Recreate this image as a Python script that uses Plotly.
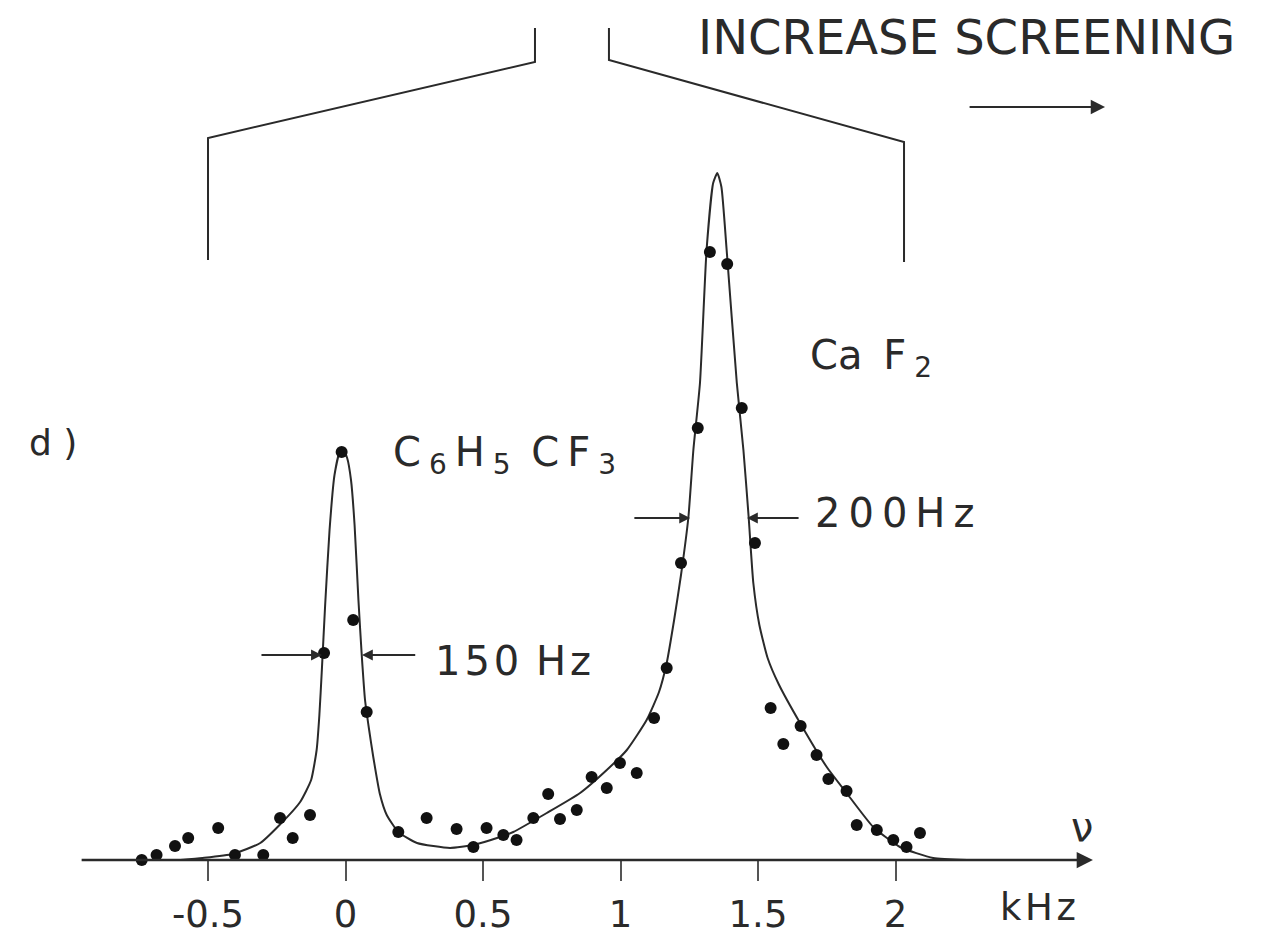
import plotly.graph_objects as go

# ---- data (x in kHz, y in arbitrary intensity units) ----
curve_x = [-0.60, -0.52, -0.41, -0.31, -0.24, -0.165, -0.125, -0.105, -0.095, -0.086,
           -0.074, -0.058, -0.040, -0.022, -0.008, 0.006, 0.020, 0.033, 0.047, 0.059,
           0.071, 0.086, 0.101, 0.125, 0.150, 0.192, 0.26, 0.38, 0.464, 0.562,
           0.61, 0.732, 0.853, 0.95, 1.023, 1.095, 1.14, 1.168, 1.195, 1.22,
           1.247, 1.265, 1.289, 1.313, 1.337, 1.352, 1.367, 1.386, 1.423, 1.447,
           1.466, 1.483, 1.505, 1.535, 1.575, 1.653, 1.75, 1.822, 1.919, 2.016,
           2.137, 2.26]
curve_y = [0.00, 0.02, 0.06, 0.17, 0.35, 0.58, 0.80, 1.10, 1.45, 1.90,
           2.55, 3.30, 3.85, 4.07, 4.10, 4.02, 3.80, 3.35, 2.60, 2.05,
           1.60, 1.30, 1.03, 0.66, 0.45, 0.28, 0.17, 0.12, 0.15, 0.23,
           0.28, 0.47, 0.67, 0.90, 1.10, 1.40, 1.68, 1.97, 2.40, 2.85,
           3.43, 4.10, 4.77, 6.10, 6.77, 6.87, 6.73, 6.10, 4.77, 4.10,
           3.43, 2.77, 2.35, 2.02, 1.76, 1.37, 0.93, 0.67, 0.33, 0.13,
           0.02, 0.00]

points_x = [-0.741, -0.687, -0.62, -0.572, -0.513, -0.463, -0.402, -0.299, -0.238, -0.192,
            -0.129, -0.078, -0.014, 0.028, 0.077, 0.135, 0.192, 0.235, 0.295, 0.35,
            0.404, 0.465, 0.513, 0.574, 0.622, 0.683, 0.737, 0.78, 0.841, 0.895,
            0.95, 0.998, 1.059, 1.122, 1.168, 1.22, 1.281, 1.325, 1.388, 1.441,
            1.489, 1.546, 1.592, 1.655, 1.713, 1.756, 1.822, 1.859, 1.932, 1.992,
            2.04, 2.089, 2.107]
points_y = [0.00, 0.05, 0.14, 0.22, -0.10, 0.32, 0.05, 0.05, 0.42, 0.22,
            0.45, 2.07, 4.08, 2.40, 1.48, -0.03, 0.28, -0.02, 0.42, -0.03,
            0.31, 0.13, 0.32, 0.25, 0.20, 0.42, 0.66, 0.41, 0.50, 0.83,
            0.72, 0.97, 0.87, 1.42, 1.92, 2.97, 4.32, 6.08, 5.96, 4.52,
            3.17, 1.52, 1.16, 1.34, 1.05, 0.81, 0.69, 0.35, 0.30, 0.20,
            0.13, 0.27, -0.02]

tick_vals = [-0.5, 0, 0.5, 1, 1.5, 2]
tick_text = ["-0.5", "0", "0.5", "1", "1.5", "2"]

FONT = "DejaVu Sans"
INK = "#2a2a2a"
TS = "\u2009"  # thin space for the spaced lettering
HS = "\u200a"  # hair space

fig = go.Figure()
fig.add_trace(go.Scatter(x=curve_x, y=curve_y, mode="lines",
                         line=dict(color=INK, width=2, shape="spline", smoothing=0.5),
                         cliponaxis=False, hoverinfo="skip"))
fig.add_trace(go.Scatter(x=points_x, y=points_y, mode="markers",
                         marker=dict(color="#111111", size=12),
                         cliponaxis=False))

ann = []
# x axis with arrow
ann.append(dict(x=2.718, y=0, ax=-0.965, ay=0, xref="x", yref="y", axref="x", ayref="y",
                text="", showarrow=True, arrowhead=2, arrowsize=1.3, arrowwidth=2.5,
                arrowcolor=INK))
# half-width markers
for (hx, tx, yy) in [(-0.086, -0.311, 2.05), (0.060, 0.259, 2.05),
                     (1.253, 1.045, 3.42), (1.460, 1.653, 3.42)]:
    ann.append(dict(x=hx, y=yy, ax=tx, ay=yy, xref="x", yref="y", axref="x", ayref="y",
                    text="", showarrow=True, arrowhead=2, arrowsize=1.2, arrowwidth=1.8,
                    arrowcolor=INK))
# increase screening arrow
ann.append(dict(x=2.762, y=7.53, ax=2.264, ay=7.53, xref="x", yref="y", axref="x", ayref="y",
                text="", showarrow=True, arrowhead=2, arrowsize=1.3, arrowwidth=2.2,
                arrowcolor=INK))

def label(txt, x, y, size, xanchor="center", yanchor="middle"):
    return dict(text=txt, x=x, y=y, xref="x", yref="y", showarrow=False,
                xanchor=xanchor, yanchor=yanchor,
                font=dict(family=FONT, size=size, color=INK))

ann.append(label("INCREASE SCREENING", 2.26, 8.23, 48))
ann.append(label("d )", -1.064, 4.18, 36))
ann.append(label("C" + TS + "<sub>6</sub>" + TS + "H" + TS + "<sub>5</sub>" + TS + " C" + TS
                 + "F" + TS + "<sub>3</sub>", 0.165, 4.05, 40, xanchor="left"))
ann.append(label("Ca" + TS + " F" + TS + "<sub>2</sub>", 1.68, 5.02, 40, xanchor="left"))
ann.append(label("1" + HS + "5" + HS + "0" + HS + " H" + HS + "z", 0.318, 1.99, 40,
                 xanchor="left"))
ann.append(label("2" + TS + "0" + TS + "0" + TS + "H" + TS + "z", 1.70, 3.47, 40,
                 xanchor="left"))
ann.append(label("\u03bd", 2.68, 0.33, 40))
ann.append(dict(text="k" + HS + "H" + HS + "z", x=2.52, y=0, xref="x", yref="paper",
                yanchor="top", showarrow=False, yshift=-24,
                font=dict(family=FONT, size=37, color=INK)))

shapes = [
    dict(type="path", xref="x", yref="y",
         path="M -0.5,6.0 L -0.5,7.22 L 0.689,7.98 L 0.689,8.32",
         line=dict(color=INK, width=2)),
    dict(type="path", xref="x", yref="y",
         path="M 0.958,8.32 L 0.958,8.0 L 2.031,7.18 L 2.031,5.98",
         line=dict(color=INK, width=2)),
]

fig.update_layout(
    width=1263, height=941,
    margin=dict(l=0, r=0, t=0, b=81, autoexpand=False),
    paper_bgcolor="white", plot_bgcolor="white",
    showlegend=False,
    annotations=ann, shapes=shapes,
    xaxis=dict(range=[-1.2564, 3.3364], showgrid=False, zeroline=False, showline=False,
               automargin=False,
               ticks="outside", ticklen=20, tickwidth=1.5, tickcolor="#555",
               tickvals=tick_vals, ticktext=tick_text, ticklabelstandoff=2,
               tickfont=dict(family=FONT, size=37, color=INK)),
    yaxis=dict(range=[0, 8.6], visible=False, automargin=False),
)

fig.write_html("out.html")
